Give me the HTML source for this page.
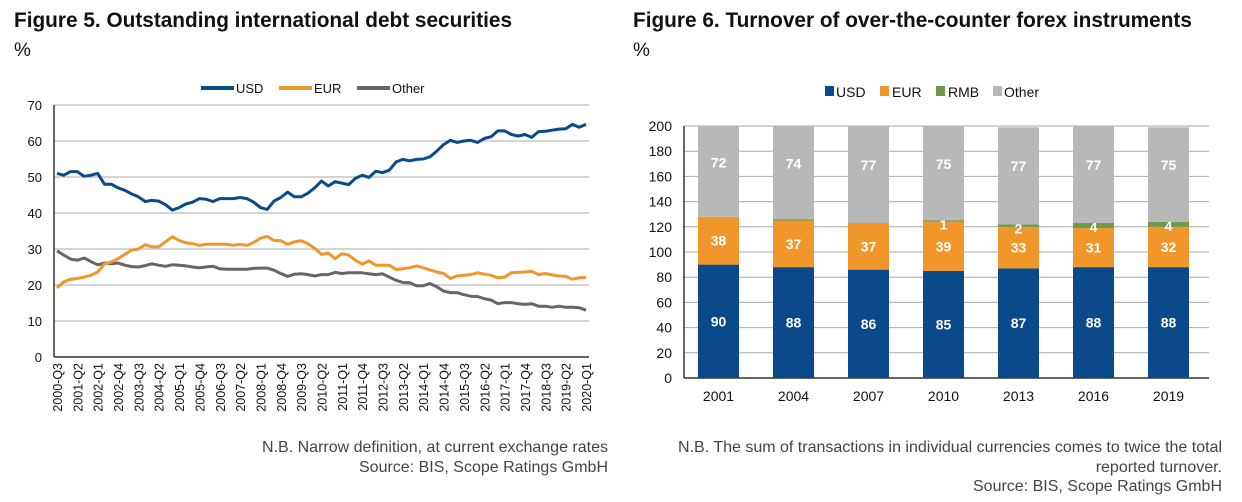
<!DOCTYPE html>
<html><head><meta charset="utf-8"><style>
body{margin:0;background:#fff;font-family:"Liberation Sans",Arial,sans-serif;}
#wrap{position:relative;width:1242px;height:502px;overflow:hidden;}
svg text{font-family:"Liberation Sans",Arial,sans-serif;}
</style></head><body>
<div id="wrap">
<svg id="s" width="1242" height="502" xmlns="http://www.w3.org/2000/svg">
<text x="14" y="27" font-size="20.8" font-weight="bold" fill="#111">Figure 5. Outstanding international debt securities</text>
<text x="14" y="56" font-size="19" fill="#111">%</text>
<text x="633" y="27" font-size="20.8" font-weight="bold" fill="#111">Figure 6. Turnover of over-the-counter forex instruments</text>
<text x="633" y="56" font-size="19" fill="#111">%</text>
<g font-size="13" fill="#111">
<line x1="201" y1="88" x2="234" y2="88" stroke="#0a4a8a" stroke-width="4"/><text x="236" y="93">USD</text>
<line x1="279" y1="88" x2="312" y2="88" stroke="#f0962a" stroke-width="4"/><text x="314" y="93">EUR</text>
<line x1="357" y1="88" x2="390" y2="88" stroke="#666" stroke-width="4"/><text x="392" y="93">Other</text>
</g>
<g font-size="14" fill="#111">
<rect x="825" y="86" width="9" height="10" fill="#0a4a8a"/><text x="836" y="97">USD</text>
<rect x="880" y="86" width="9" height="10" fill="#f0962a"/><text x="892" y="97">EUR</text>
<rect x="936" y="86" width="9" height="10" fill="#6a9a4a"/><text x="948" y="97">RMB</text>
<rect x="993" y="86" width="9" height="10" fill="#b8b8b8"/><text x="1004" y="97">Other</text>
</g>
<g font-size="16" fill="#444" text-anchor="end">
<text x="608" y="452">N.B. Narrow definition, at current exchange rates</text>
<text x="608" y="472">Source: BIS, Scope Ratings GmbH</text>
<text x="1222" y="452">N.B. The sum of transactions in individual currencies comes to twice the total</text>
<text x="1222" y="472">reported turnover.</text>
<text x="1222" y="491">Source: BIS, Scope Ratings GmbH</text>
</g>
<g id="c1"></g><g id="c2"></g>
</svg></div>
<script>
const usd=[51,50.5,51.5,51.5,50.2,50.5,51,48,48,47,46.3,45.3,44.5,43.2,43.5,43.3,42.3,40.8,41.5,42.5,43,44,43.8,43.2,44,44,44,44.3,44,43,41.5,41,43.3,44.3,45.8,44.5,44.5,45.5,47,48.9,47.5,48.7,48.3,47.9,49.6,50.5,49.9,51.6,51.2,51.9,54.2,54.9,54.5,54.9,55,55.6,57.2,59,60.2,59.6,60,60.2,59.6,60.7,61.2,62.8,62.8,61.8,61.4,61.8,61,62.6,62.7,63,63.3,63.4,64.6,63.8,64.6];
const eur=[19.2,20.9,21.6,21.8,22.2,22.7,23.6,25.9,26.4,27.3,28.5,29.7,30,31.2,30.6,30.6,32,33.4,32.4,31.7,31.5,31,31.3,31.3,31.3,31.3,31,31.3,31,31.8,33,33.5,32.4,32.3,31.3,32,32.3,31.5,30.2,28.5,28.9,27.3,28.7,28.3,26.9,25.8,26.7,25.5,25.5,25.5,24.3,24.5,24.8,25.3,24.8,24.2,23.6,23.2,21.8,22.5,22.7,22.9,23.4,23,22.7,22,22.2,23.4,23.5,23.6,23.8,22.9,23.2,22.8,22.5,22.4,21.6,22,22.1];
const other=[29.5,28.3,27.2,26.9,27.5,26.5,25.6,26.1,25.9,26.1,25.5,25.1,25,25.4,25.9,25.5,25.2,25.6,25.5,25.3,25,24.8,25,25.2,24.5,24.4,24.4,24.4,24.4,24.6,24.7,24.7,24.1,23.2,22.4,23,23.1,22.9,22.5,22.9,22.9,23.5,23.2,23.4,23.4,23.4,23.1,22.9,23.1,22.2,21.3,20.7,20.6,19.8,19.8,20.4,19.5,18.3,17.9,17.9,17.3,16.9,16.8,16.2,15.8,14.8,15.1,15.1,14.8,14.6,14.8,14.1,14.1,13.8,14.1,13.8,13.8,13.7,13];
const yTicks1=[0,10,20,30,40,50,60,70];
const years2=["2001","2004","2007","2010","2013","2016","2019"];
const bUsd=[90,88,86,85,87,88,88];
const bEur=[38,37,37,39,33,31,32];
const bRmb=[0,1,0,1,2,4,4];
const bOther=[72,74,77,75,77,77,75];
const rmbLabels=["","","","1","2","4","4"];
const yTicks2=[0,20,40,60,80,100,120,140,160,180,200];
const NS="http://www.w3.org/2000/svg";
function mk(p,t,a){const e=document.createElementNS(NS,t);for(const k in a)e.setAttribute(k,a[k]);p.appendChild(e);return e;}
// chart 1
const c1=document.getElementById('c1');
const L1=54,R1=589,T1=105,B1=357;
const y1=v=>B1-(v/70)*(B1-T1);
const n=usd.length;
const x1=i=>57+i*(R1-3-57)/(n-1);
yTicks1.forEach(v=>{
 const g=mk(c1,'line',{x1:L1,x2:R1,y1:y1(v),y2:y1(v),stroke:v===0?'#333':'#aaa','stroke-width':v===0?1.5:1});
 
 
 const t=mk(c1,'text',{x:L1-12,y:y1(v)+5,'font-size':13,'text-anchor':'end',fill:'#111'});t.textContent=v;
 
 
});
const ax=mk(c1,'line',{x1:L1,x2:L1,y1:T1,y2:B1,stroke:'#333','stroke-width':1.5});


const qn=["Q1","Q2","Q3","Q4"];
for(let i=0;i<n;i+=3){
 const q=2+i, yr=2000+Math.floor(q/4), lab=yr+"-"+qn[q%4];
 const xx=x1(i)+5;
 const t=mk(c1,'text',{x:xx,y:B1+6,'font-size':12.5,'text-anchor':'end',fill:'#111',transform:`rotate(-90 ${xx} ${B1+6})`});
 t.textContent=lab;
 
 
}
[[other,'#666','other'],[eur,'#f0962a','eur'],[usd,'#0a4a8a','usd']].forEach(([d,c,nm])=>{
 const p=mk(c1,'polyline',{points:d.map((v,i)=>x1(i).toFixed(1)+','+y1(v).toFixed(1)).join(' '),fill:'none',stroke:c,'stroke-width':3,'stroke-linejoin':'round'});
 
 
});
// chart 2
const c2=document.getElementById('c2');
const L2=684,R2=1209,T2=126,B2=378;
const y2=v=>B2-(v/200)*(B2-T2);
const step=(R2-L2)/years2.length, bw=41;
const xc=i=>L2+step*(i+0.5)-3;
yTicks2.forEach(v=>{
 const g=mk(c2,'line',{x1:L2,x2:R2,y1:y2(v),y2:y2(v),stroke:v===0?'#333':'#aaa','stroke-width':v===0?1.5:1});
 
 
 const t=mk(c2,'text',{x:L2-12,y:y2(v)+5,'font-size':14,'text-anchor':'end',fill:'#111'});t.textContent=v;
 
 
});
const ax2=mk(c2,'line',{x1:L2,x2:L2,y1:T2,y2:B2,stroke:'#333','stroke-width':1.5});


years2.forEach((yr,i)=>{
 let base=0;
 const segs=[[bUsd[i],'#0a4a8a','usd',String(bUsd[i]),0.5],[bEur[i],'#f0962a','eur',String(bEur[i]),0.5],[bRmb[i],'#6a9a4a','rmb',rmbLabels[i],0.5],[bOther[i],'#b8b8b8','other',String(bOther[i]),0.6]];
 segs.forEach(([v,c,nm,lab,pos])=>{
  if(v>0){
   const r=mk(c2,'rect',{x:xc(i)-bw/2,y:y2(base+v),width:bw,height:y2(base)-y2(base+v),fill:c});
   
   
  }
  if(lab){
   const ty=nm==='rmb'?y2(base+v)+9:y2(base+v*pos)+5;
   const t=mk(c2,'text',{x:xc(i),y:ty,'font-size':14,'font-weight':'bold','text-anchor':'middle',fill:'#fff'});t.textContent=lab;
   
   
  }
  base+=v;
 });
 const t=mk(c2,'text',{x:xc(i),y:B2+23,'font-size':14,'text-anchor':'middle',fill:'#111'});t.textContent=yr;
 
 
});
</script>
</body></html>
